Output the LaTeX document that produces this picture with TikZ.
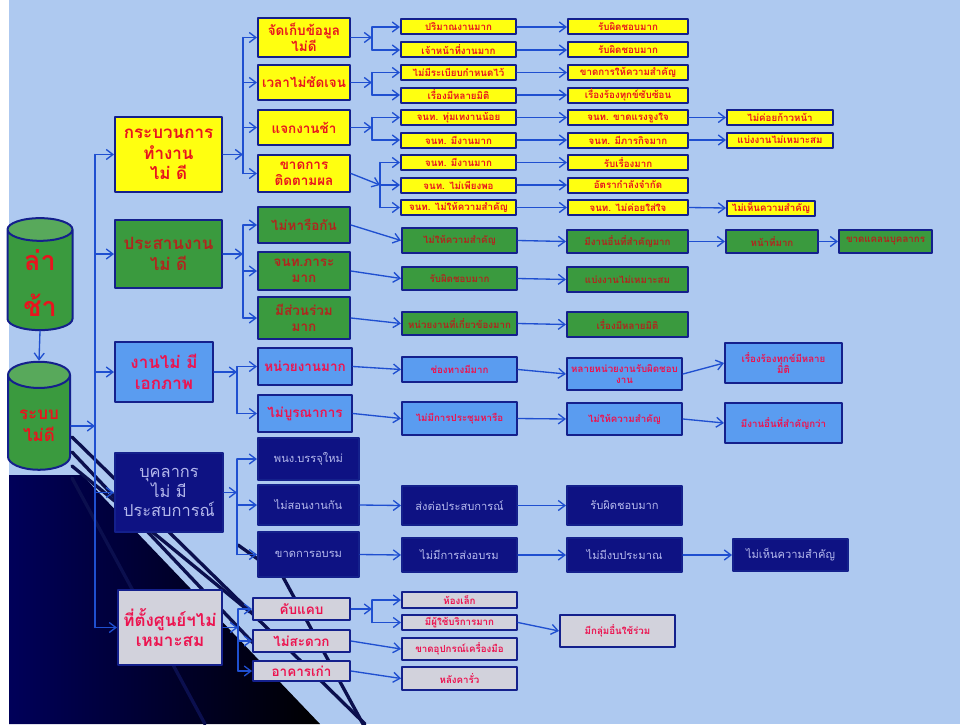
\documentclass[tikz,border=0pt]{standalone}
\usepackage{fontspec}
\newfontfamily\thaifont[Script=Thai]{Loma}
\usetikzlibrary{arrows.meta,shapes.geometric}
\definecolor{bgblue}{HTML}{AEC9F0}
\definecolor{boxline}{HTML}{14208C}
\definecolor{wireblue}{HTML}{1F4FD0}
\definecolor{yelfill}{HTML}{FFFF10}
\definecolor{grnfill}{HTML}{3A9A3E}
\definecolor{lbfill}{HTML}{5A9CF0}
\definecolor{navfill}{HTML}{0E1283}
\definecolor{gryfill}{HTML}{D2D2DC}
\definecolor{redtxt}{HTML}{E8141E}
\definecolor{darkred}{HTML}{B0261E}
\definecolor{pinktxt}{HTML}{EC1450}
\definecolor{navtxt}{HTML}{B4B8EC}
\definecolor{ribnavy}{HTML}{0B0F4E}
\tikzset{
  sz/.style 2 args={minimum width=#1*0.3mm, minimum height=#2*0.3mm},
  box/.style={draw=boxline, line width=0.6mm, inner sep=0.5pt, align=center},
  yel/.style={box, fill=yelfill, text=redtxt},
  grn/.style={box, fill=grnfill, text=darkred},
  lbl/.style={box, fill=lbfill, text=pinktxt},
  nav/.style={box, fill=navfill, text=navtxt},
  gry/.style={box, fill=gryfill, text=pinktxt},
  big/.style={font=\thaifont\bfseries\fontsize{14.5}{17.5}\selectfont},
  mid/.style={font=\thaifont\bfseries\fontsize{11.5}{13.5}\selectfont},
  sml/.style={font=\thaifont\bfseries\fontsize{8.3}{9}\selectfont},
  bign/.style={font=\thaifont\fontsize{14}{17}\selectfont},
  midn/.style={font=\thaifont\fontsize{9.5}{12}\selectfont},
  wire/.style={draw=wireblue, line width=0.4mm},
  conn/.style={wire, -{Straight Barb[length=2mm,width=3mm]}},
  rib/.style={draw=ribnavy, line width=1mm},
  tank/.style={cylinder, shape border rotate=90, aspect=0.55, draw=boxline,
    line width=0.6mm, cylinder uses custom fill, cylinder body fill=grnfill,
    cylinder end fill=grnfill!85!white, text=redtxt, align=center}
}
\begin{document}
\begin{tikzpicture}[x=0.3mm, y=-0.3mm, line join=round, line cap=round]
\useasboundingbox (0,0) rectangle (960,724);
% background
\fill[bgblue] (0,0) rectangle (960,724);
\fill[white] (0,0) rectangle (9,724);
\shade[left color=blue!35!black, right color=black] (9,475) -- (82,475) -- (320,724) -- (9,724) -- cycle;
\draw[rib] (72,437) -- (365,724);
\draw[rib] (72,452) -- (255,645);
\draw[rib] (72,466) -- (250,612);
\draw[rib] (72,478) -- (205,724);
\draw[rib] (238,545) -- (283,577) -- (363,724);

% tanks
\node[tank, sz={65}{112}, font=\thaifont\bfseries\fontsize{23}{40}\selectfont] (c1) at (40,283) {ล่า\\ช้า};
\node[tank, sz={62}{108}, font=\thaifont\bfseries\fontsize{14.5}{19}\selectfont] (c2) at (39,426) {ระบบ\\ไม่ดี};

% level 1
\node[yel, big, sz={107}{75}] (y1) at (168.5,154.5) {กระบวนการ\\ทำงาน\\ไม่ ดี};
\node[grn, big, sz={107}{68}] (g1) at (168.5,254) {ประสานงาน\\ไม่ ดี};
\node[lbl, big, sz={98}{60}] (b1) at (164,372) {งานไม่ มี\\เอกภาพ};
\node[nav, bign, sz={108}{79}] (n1) at (169,492.5) {บุคลากร\\ไม่ มี\\ประสบการณ์};
\node[gry, big, sz={104}{75}] (r1) at (170,627.5) {ที่ตั้งศูนย์ฯไม่\\เหมาะสม};

% level 2
\node[yel, mid, sz={92}{39}] (y2a) at (304,37.5) {จัดเก็บข้อมูล\\ไม่ดี};
\node[yel, mid, sz={92}{35}] (y2b) at (304,82.5) {เวลาไม่ชัดเจน};
\node[yel, mid, sz={92}{35}] (y2c) at (304,127.5) {แจกงานช้า};
\node[yel, mid, sz={92}{37}] (y2d) at (304,173.5) {ขาดการ\\ติดตามผล};
\node[grn, mid, sz={92}{36}] (g2a) at (304,225) {ไม่หารือกัน};
\node[grn, mid, sz={92}{38}] (g2b) at (304,271) {จนท.ภาระ\\มาก};
\node[grn, mid, sz={92}{42}] (g2c) at (304,318) {มีส่วนร่วม\\มาก};
\node[lbl, mid, sz={94}{37}] (b2a) at (305,366.5) {หน่วยงานมาก};
\node[lbl, mid, sz={94}{37}] (b2b) at (305,413.5) {ไม่บูรณาการ};
\node[nav, midn, sz={101}{42}] (n2a) at (308.5,459) {พนง.บรรจุใหม่};
\node[nav, midn, sz={101}{40}] (n2b) at (308.5,505) {ไม่สอนงานกัน};
\node[nav, midn, sz={101}{45}] (n2c) at (308.5,554.5) {ขาดการอบรม};
\node[gry, mid, sz={97}{22}] (r2a) at (301.5,609) {คับแคบ};
\node[gry, mid, sz={97}{22}] (r2b) at (301.5,641) {ไม่สะดวก};
\node[gry, mid, sz={97}{20}] (r2c) at (301.5,671) {อาคารเก่า};

% level 3
\node[yel, sml, sz={115}{15}] (y3a) at (458.5,27) {ปริมาณงานมาก};
\node[yel, sml, sz={115}{15}] (y3b) at (458.5,50) {เจ้าหน้าที่งานมาก};
\node[yel, sml, sz={115}{15}] (y3c) at (458.5,72.5) {ไม่มีระเบียบกำหนดไว้};
\node[yel, sml, sz={115}{15}] (y3d) at (458.5,95) {เรื่องมีหลายมิติ};
\node[yel, sml, sz={115}{15}] (y3e) at (458.5,117.5) {จนท. ทุ่มเทงานน้อย};
\node[yel, sml, sz={115}{15}] (y3f) at (458.5,140) {จนท. มีงานมาก};
\node[yel, sml, sz={115}{15}] (y3g) at (458.5,162.5) {จนท. มีงานมาก};
\node[yel, sml, sz={115}{15}] (y3h) at (458.5,185) {จนท. ไม่เพียงพอ};
\node[yel, sml, sz={115}{15}] (y3i) at (458.5,207.5) {จนท. ไม่ให้ความสำคัญ};
\node[grn, sml, sz={115}{25}] (g3a) at (459.5,240.5) {ไม่ให้ความสำคัญ};
\node[grn, sml, sz={115}{23}] (g3b) at (459.5,278.5) {รับผิดชอบมาก};
\node[grn, sml, sz={115}{23}] (g3c) at (459.5,323.5) {หน่วยงานที่เกี่ยวข้องมาก};
\node[lbl, sml, sz={115}{25}] (b3a) at (459.5,369.5) {ช่องทางมีมาก};
\node[lbl, sml, sz={115}{33}] (b3b) at (459.5,418.5) {ไม่มีการประชุมหารือ};
\node[nav, midn, sz={115}{39}] (n3a) at (459.5,505.5) {ส่งต่อประสบการณ์};
\node[nav, midn, sz={115}{34}] (n3b) at (459.5,555) {ไม่มีการส่งอบรม};
\node[gry, sml, sz={115}{16}] (r3a) at (459.5,600) {ห้องเล็ก};
\node[gry, sml, sz={115}{15}] (r3b) at (459.5,622.5) {มีผู้ใช้บริการมาก};
\node[gry, sml, sz={115}{22}] (r3c) at (459.5,649) {ขาดอุปกรณ์เครื่องมือ};
\node[gry, sml, sz={115}{23}] (r3d) at (459.5,678.5) {หลังคารั่ว};

% level 4
\node[yel, sml, sz={120}{15}] (y4a) at (628,27) {รับผิดชอบมาก};
\node[yel, sml, sz={120}{15}] (y4b) at (628,50) {รับผิดชอบมาก};
\node[yel, sml, sz={120}{15}] (y4c) at (628,72.5) {ขาดการให้ความสำคัญ};
\node[yel, sml, sz={120}{15}] (y4d) at (628,95) {เรื่องร้องทุกข์ซับซ้อน};
\node[yel, sml, sz={120}{15}] (y4e) at (628,117.5) {จนท. ขาดแรงจูงใจ};
\node[yel, sml, sz={120}{15}] (y4f) at (628,140) {จนท. มีภารกิจมาก};
\node[yel, sml, sz={120}{15}] (y4g) at (628,162.5) {รับเรื่องมาก};
\node[yel, sml, sz={120}{15}] (y4h) at (628,185) {อัตรากำลังจำกัด};
\node[yel, sml, sz={120}{15}] (y4i) at (628,207.5) {จนท. ไม่ค่อยใส่ใจ};
\node[grn, sml, sz={121}{23}] (g4a) at (627.5,241.5) {มีงานอื่นที่สำคัญมาก};
\node[grn, sml, sz={121}{25}] (g4b) at (627.5,279.5) {แบ่งงานไม่เหมาะสม};
\node[grn, sml, sz={121}{25}] (g4c) at (627.5,324.5) {เรื่องมีหลายมิติ};
\node[lbl, sml, sz={115}{32}] (b4a) at (624.5,374) {หลายหน่วยงานรับผิดชอบ\\งาน};
\node[lbl, sml, sz={115}{32}] (b4b) at (624.5,419) {ไม่ให้ความสำคัญ};
\node[nav, midn, sz={115}{39}] (n4a) at (624.5,505.5) {รับผิดชอบมาก};
\node[nav, midn, sz={115}{34}] (n4b) at (624.5,555) {ไม่มีงบประมาณ};
\node[gry, sml, sz={115}{32}] (r4) at (617.5,631) {มีกลุ่มอื่นใช้ร่วม};

% level 5 and 6
\node[yel, sml, sz={106}{15}] (y5e) at (780,117.5) {ไม่ค่อยก้าวหน้า};
\node[yel, sml, sz={106}{15}] (y5f) at (780,140) {แบ่งงานไม่เหมาะสม};
\node[yel, sml, sz={88}{15}] (y5i) at (771,208) {ไม่เห็นความสำคัญ};
\node[grn, sml, sz={92}{23}] (g5) at (772,241.5) {หน้าที่มาก};
\node[grn, sml, sz={93}{23}] (g6) at (885.5,241.5) {ขาดแคลนบุคลากร};
\node[lbl, sml, sz={117}{40}] (b5a) at (783.5,363) {เรื่องร้องทุกข์มีหลาย\\มิติ};
\node[lbl, sml, sz={117}{40}] (b5b) at (783.5,423) {มีงานอื่นที่สำคัญกว่า};
\node[nav, midn, sz={115}{32}] (n5) at (790.5,555) {ไม่เห็นความสำคัญ};

% trunk
\coordinate (tk) at (95,0);
\coordinate (sy) at (243,0);
\coordinate (sb) at (237,0);
\coordinate (sr) at (238,0);
\coordinate (fy) at (372,0);
\coordinate (fz) at (380,0);
\draw[conn] (c1.south) -- (c2.north);
\draw[conn] (c2.east) -- (c2.east -| tk);
\draw[wire] (tk |- y1) -- (tk |- r1);
\foreach \n in {y1,g1,b1,n1,r1}
  \draw[conn] (tk |- \n) -- (\n.west);

% level 1 to level 2
\draw[conn] (y1.east) -- (y1.east -| sy);
\draw[wire] (sy |- y2a) -- (sy |- y2d);
\draw[conn] (g1.east) -- (g1.east -| sy);
\draw[wire] (sy |- g2a) -- (sy |- g2c);
\foreach \n in {y2a,y2b,y2c,y2d,g2a,g2b,g2c}
  \draw[conn] (sy |- \n) -- (\n.west);
\draw[conn] (b1.east) -- (b1.east -| sb);
\draw[wire] (sb |- b2a) -- (sb |- b2b);
\draw[conn] (n1.east) -- (n1.east -| sb);
\draw[wire] (sb |- n2a) -- (sb |- n2c);
\foreach \n in {b2a,b2b,n2a,n2b,n2c}
  \draw[conn] (sb |- \n) -- (\n.west);
\draw[conn] (r1.east) -- (r1.east -| sr);
\draw[wire] (sr |- r2a) -- (sr |- r2c);
\foreach \n in {r2a,r2b,r2c}
  \draw[conn] (sr |- \n) -- (\n.west);

% forks to level 3
\foreach \a/\b/\c in {y2a/y3a/y3b, y2b/y3c/y3d, y2c/y3e/y3f, r2a/r3a/r3b} {
  \draw[conn] (\a.east) -- (\a.east -| fy);
  \draw[wire] (fy |- \b) -- (fy |- \c);
  \draw[conn] (fy |- \b) -- (\b.west);
  \draw[conn] (fy |- \c) -- (\c.west);
}
\draw[conn] (y2d.east) -- (fz |- y3h);
\draw[wire] (fz |- y3g) -- (fz |- y3i);
\foreach \n in {y3g,y3h,y3i}
  \draw[conn] (fz |- \n) -- (\n.west);

% straight links
\foreach \a/\b in {y3a/y4a, y3b/y4b, y3c/y4c, y3d/y4d, y3e/y4e, y3f/y4f,
    y3g/y4g, y3h/y4h, y3i/y4i, y4e/y5e, y4f/y5f, y4i/y5i,
    g2a/g3a, g2b/g3b, g2c/g3c, g3a/g4a, g3b/g4b, g3c/g4c, g4a/g5, g5/g6,
    b2a/b3a, b2b/b3b, b3a/b4a, b3b/b4b, b4a/b5a, b4b/b5b,
    n2b/n3a, n2c/n3b, n3a/n4a, n3b/n4b, n4b/n5,
    r2b/r3c, r2c/r3d, r3b/r4}
  \draw[conn] (\a.east) -- (\b.west);
\end{tikzpicture}
\end{document}
